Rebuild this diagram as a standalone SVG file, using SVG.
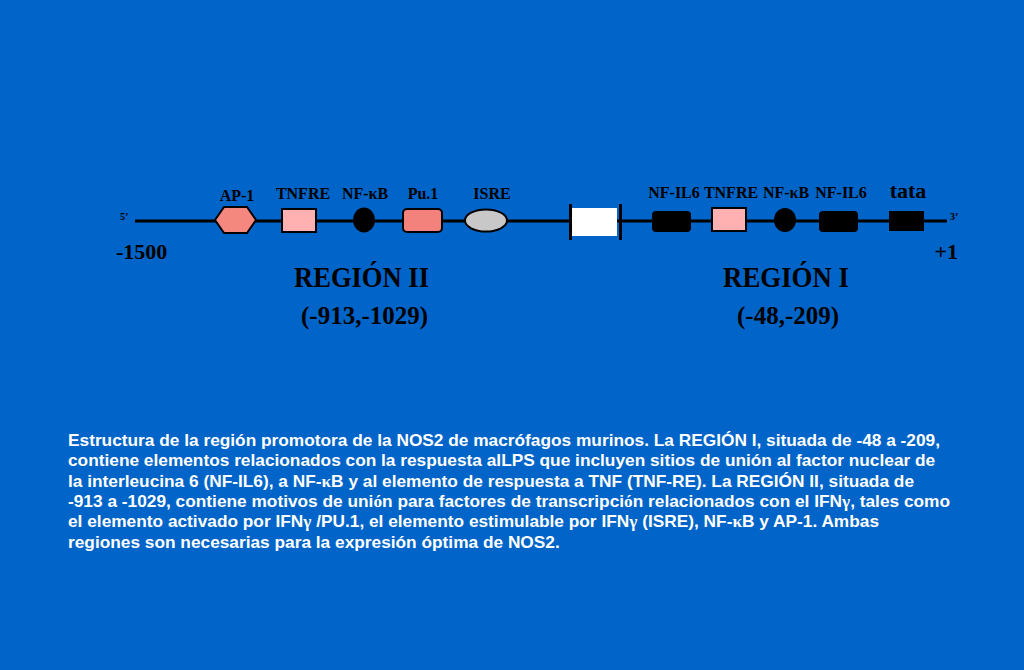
<svg xmlns="http://www.w3.org/2000/svg" width="1024" height="670" viewBox="0 0 1024 670">
<style>
.lbl{font-family:"Liberation Serif","Times New Roman",serif;font-weight:bold;fill:#000;text-anchor:middle}
.s{font-size:16px}
.big{font-family:"Liberation Serif","Times New Roman",serif;font-weight:bold;fill:#000}
.body{font-family:"Liberation Sans",Arial,sans-serif;font-weight:bold;font-size:17.3px;fill:#fff}
.gr{font-family:"Liberation Serif","Times New Roman",serif}
.el{stroke:#000;stroke-width:2}
</style>
<rect width="1024" height="670" fill="#0064C8"/>
<g id="connectors">
<line x1="135" y1="221" x2="947" y2="221" stroke="#000" stroke-width="3"/>
</g>
<g id="ends">
<text class="big" x="120" y="220" font-size="10">5’</text>
<text class="big" x="950" y="220" font-size="10">3’</text>
<text class="big" x="116" y="259" font-size="22">-1500</text>
<text class="big" x="958" y="259" font-size="22" text-anchor="end">+1</text>
</g>
<g id="ap1">
<polygon class="el" points="215,220 224,207 247,207 256,220 247,233 224,233" fill="#F4877E"/>
<text class="lbl s" x="237" y="201">AP-1</text>
</g>
<g id="tnfre2">
<rect class="el" x="282" y="209" width="34" height="23" fill="#FFB0B0"/>
<text class="lbl s" x="303" y="199">TNFRE</text>
</g>
<g id="nfkb2">
<ellipse cx="364" cy="220" rx="11" ry="12.5" fill="#000"/>
<text class="lbl s" x="365" y="199">NF-κB</text>
</g>
<g id="pu1">
<rect class="el" x="403" y="209" width="39" height="23" rx="4" fill="#F4827C"/>
<text class="lbl s" x="423" y="199">Pu.1</text>
</g>
<g id="isre">
<ellipse class="el" cx="486" cy="220.5" rx="21" ry="11" fill="#C8C8C8"/>
<text class="lbl s" x="492" y="199">ISRE</text>
</g>
<g id="gap">
<rect x="572" y="208" width="45" height="28" fill="#fff"/>
<line x1="570.5" y1="204" x2="570.5" y2="240" stroke="#000" stroke-width="3"/>
<line x1="620.5" y1="204" x2="620.5" y2="240" stroke="#000" stroke-width="3"/>
</g>
<g id="nfil6a">
<rect x="652" y="211" width="39" height="21" rx="4" fill="#000"/>
<text class="lbl s" x="674" y="198">NF-IL6</text>
</g>
<g id="tnfre1">
<rect class="el" x="712" y="208" width="34" height="23" fill="#FFB0B0"/>
<text class="lbl s" x="731" y="198">TNFRE</text>
</g>
<g id="nfkb1">
<ellipse cx="785" cy="220" rx="11" ry="12" fill="#000"/>
<text class="lbl s" x="786" y="198">NF-κB</text>
</g>
<g id="nfil6b">
<rect x="819" y="211" width="39" height="21" rx="4" fill="#000"/>
<text class="lbl s" x="841" y="198">NF-IL6</text>
</g>
<g id="tata">
<rect x="889" y="211" width="35" height="20" fill="#000"/>
<text class="lbl" x="908" y="198" font-size="22">tata</text>
</g>
<g id="region2">
<text class="big" x="294" y="287" font-size="28.5" textLength="135" lengthAdjust="spacingAndGlyphs">REGIÓN II</text>
<text class="big" x="301" y="324" font-size="25">(-913,-1029)</text>
</g>
<g id="region1">
<text class="big" x="723" y="287" font-size="28.5" textLength="126" lengthAdjust="spacingAndGlyphs">REGIÓN I</text>
<text class="big" x="737" y="324" font-size="25">(-48,-209)</text>
</g>
<g id="caption">
<text class="body" x="68" y="446">Estructura de la región promotora de la NOS2 de macrófagos murinos. La REGIÓN I, situada de -48 a -209,</text>
<text class="body" x="68" y="466.3">contiene elementos relacionados con la respuesta alLPS que incluyen sitios de unión al factor nuclear de</text>
<text class="body" x="68" y="486.6">la interleucina 6 (NF-IL6), a NF-<tspan class="gr">κ</tspan>B y al elemento de respuesta a TNF (TNF-RE). La REGIÓN II, situada de</text>
<text class="body" x="68" y="507">-913 a -1029, contiene motivos de uni<tspan class="gr">ó</tspan>n para factores de transcripci<tspan class="gr">ó</tspan>n relacionados con el IFN<tspan class="gr">γ</tspan>, tales como</text>
<text class="body" x="68" y="527.3">el elemento activado por IFN<tspan class="gr">γ</tspan> /PU.1, el elemento estimulable por IFN<tspan class="gr">γ</tspan> (ISRE), NF-<tspan class="gr">κ</tspan>B y AP-1. Ambas</text>
<text class="body" x="68" y="547.6">regiones son necesarias para la expresión óptima de NOS2.</text>
</g>
</svg>
